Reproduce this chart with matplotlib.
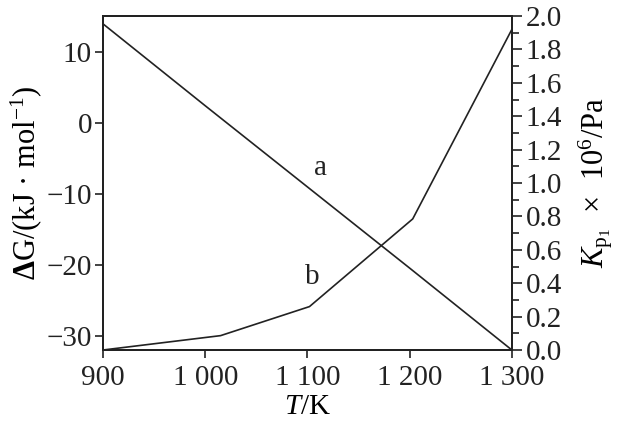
import matplotlib
matplotlib.use('Agg')
import matplotlib.pyplot as plt
from matplotlib.ticker import MultipleLocator

# data
T_a = [900, 1000, 1100, 1200, 1300]
dG_a = [13.9, 2.4, -9.0, -20.4, -31.9]

T_b = [900, 1015, 1102, 1203, 1300]
Kp_b = [0.0, 0.086, 0.26, 0.785, 1.92]

x_ticks = [900, 1000, 1100, 1200, 1300]
x_labels = ['900', '1 000', '1 100', '1 200', '1 300']
left_ticks = [10, 0, -10, -20, -30]
right_ticks = [0.0, 0.2, 0.4, 0.6, 0.8, 1.0, 1.2, 1.4, 1.6, 1.8, 2.0]

plt.rcParams['font.family'] = ['Liberation Serif', 'DejaVu Serif']
plt.rcParams['mathtext.fontset'] = 'custom'
plt.rcParams['mathtext.rm'] = 'Liberation Serif'
plt.rcParams['mathtext.it'] = 'Liberation Serif:italic'
plt.rcParams['mathtext.bf'] = 'Liberation Serif:bold'
plt.rcParams['axes.unicode_minus'] = True

fs = 21

fig = plt.figure(figsize=(6.25, 4.26), dpi=100)
ax = fig.add_axes([0.1648, 0.1784, 0.819 - 0.1648, 0.9624 - 0.1784])
ax2 = ax.twinx()

ax.plot(T_a, dG_a, color='#222222', lw=1.2)
ax2.plot(T_b, Kp_b, color='#222222', lw=1.2)

ax.set_xlim(900, 1300)
ax.set_ylim(-31.9, 15.0)
ax2.set_ylim(0, 2.0)

ax.set_xticks(x_ticks)
ax.set_xticklabels(x_labels)
ax.set_yticks(left_ticks)
ax.set_yticklabels([str(v).replace('-', '\u2212') for v in left_ticks])
ax2.set_yticks(right_ticks)
ax2.set_yticklabels([f'{v:.1f}' for v in right_ticks])
ax2.yaxis.set_minor_locator(MultipleLocator(0.1))

for a in (ax, ax2):
    for s in a.spines.values():
        s.set_linewidth(1.4)
        s.set_color('#222222')
    a.tick_params(axis='both', which='major', direction='out', length=6, width=1.2,
                  labelsize=fs, colors='#222222', pad=2)
    a.tick_params(axis='both', which='minor', direction='out', length=5, width=1.2,
                  colors='#222222')
ax.tick_params(axis='x', which='major', pad=5)
ax2.tick_params(axis='y', which='major', length=7, pad=3)

ax.set_xlabel(r'$T$/K', fontsize=fs, labelpad=2)
ax.set_ylabel(r'$\mathbf{\Delta}$G/(kJ · mol$^{-1}$)', fontsize=22, labelpad=2)
ax2.set_ylabel(r'$K_{\mathrm{p}_1}$  ×  10$^{6}$/Pa', fontsize=22, labelpad=10)

ax.text(1113, -6.4, 'a', fontsize=fs, ha='center', va='center', color='#222222')
ax.text(1105, -21.6, 'b', fontsize=fs, ha='center', va='center', color='#222222')

fig.savefig('out.png', dpi=100)
